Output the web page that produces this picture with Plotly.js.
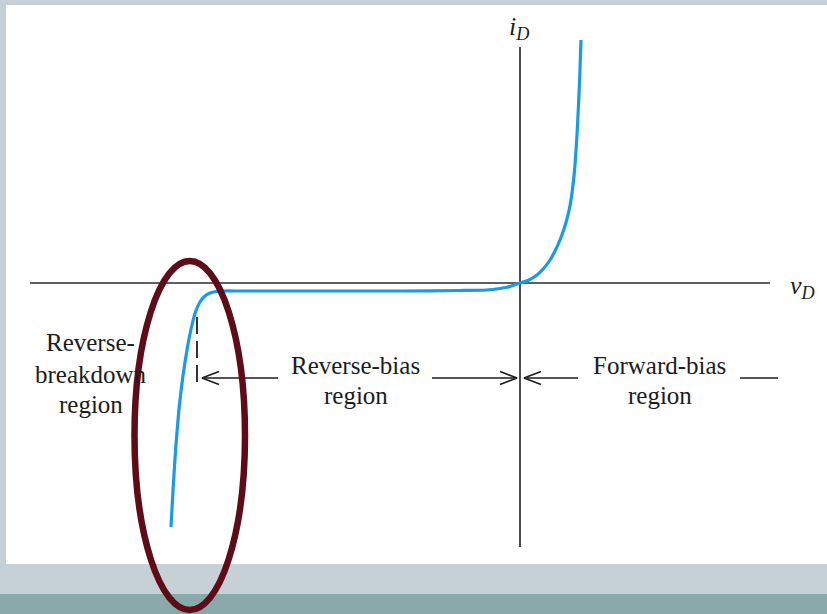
<!DOCTYPE html>
<html>
<head>
<meta charset="utf-8">
<script src="https://cdn.plot.ly/plotly-3.0.1.min.js"></script>
<style>html,body{margin:0;padding:0;background:#fff;}#chart{width:827px;height:614px;}</style>
</head>
<body>
<div id="chart"></div>
<script>
// Diode i-v characteristic (schematic units)
const curveV = [-34.9, -34.68, -34.42, -34.08, -33.72, -33.25, -32.85, -32.45, -32.0, -31.5, -31.0, -30.4, -29.6, -28.0, -22.0, -12.0, -6.0, -3.3, -2.0, -1.3, -0.7, 0.0,
                0.8, 1.7, 2.4, 3.0, 3.5, 4.0, 4.4, 4.75, 5.05, 5.3, 5.5, 5.7, 5.85, 5.97, 6.1];
const curveI = [-24.4, -20.4, -16.4, -12.4, -9.4, -6.4, -4.4, -2.9, -1.9, -1.3, -1.0, -0.85, -0.8, -0.8, -0.8, -0.8, -0.75, -0.7, -0.55, -0.43, -0.25, 0.0,
                0.25, 0.8, 1.5, 2.3, 3.2, 4.3, 5.4, 6.6, 8.0, 9.8, 11.8, 14.8, 17.8, 20.5, 24.3];

// axis lines
const vAxisV = [-49, 25];
const vAxisI = [0, 0];
const iAxisV = [0, 0];
const iAxisI = [23.6, -26.4];

// breakdown voltage marker (dashed)
const markV = [-32.3, -32.3];
const markI = [-3.4, -10.4];

// region arrows: [tail, tip]
const arrowY = -9.5;
const arrowRB = [-24.2, -31.8];
const arrowRR = [-8.8, -0.3];
const arrowFL = [5.8, 0.4];
const segFR = [22.0, 25.8];

// labels
const labelTexts = ["Reverse-", "breakdown", "region", "Reverse-bias", "region", "Forward-bias", "region"];
const labelV = [-42.95, -42.95, -42.95, -16.45, -16.45, 13.95, 13.95];
const labelI = [-5.9, -9.1, -12.1, -8.2, -11.2, -8.2, -11.2];

// highlight ellipse bounds
const ellipseV = [-38.55, -27.5];
const ellipseI = [2.2, -32.7];

const serif = '"Liberation Serif", "Times New Roman", serif';
const ink = '#1c1c1c';

// open chevron arrow (head size in axis units)
const headL = 1.7, headH = 0.65;
function arrowTrace(a) {
  const s = a[0] > a[1] ? 1 : -1;
  return {
    x: [a[0], a[1], null, a[1] + s * headL, a[1], a[1] + s * headL],
    y: [arrowY, arrowY, null, arrowY + headH, arrowY, arrowY - headH],
    mode: 'lines', line: {color: ink, width: 1.6}, hoverinfo: 'skip'
  };
}

const traces = [
  {x: vAxisV, y: vAxisI, mode: 'lines', line: {color: '#2b2b2b', width: 1.6}, hoverinfo: 'skip'},
  {x: iAxisV, y: iAxisI, mode: 'lines', line: {color: '#3a3a3a', width: 1.8}, hoverinfo: 'skip'},
  {x: markV, y: markI, mode: 'lines', line: {color: ink, width: 1.8, dash: '17px,7px'}, hoverinfo: 'skip'},
  {x: segFR, y: [arrowY, arrowY], mode: 'lines', line: {color: ink, width: 1.6}, hoverinfo: 'skip'},
  arrowTrace(arrowRB), arrowTrace(arrowRR), arrowTrace(arrowFL),
  {x: curveV, y: curveI, mode: 'lines', line: {color: '#1a9ae6', width: 3.2, shape: 'spline', smoothing: 0.5}, hoverinfo: 'skip'}
];

const annotations = [];
labelTexts.forEach((t, k) => {
  annotations.push({x: labelV[k], y: labelI[k], xref: 'x', yref: 'y', text: t, showarrow: false,
    xanchor: 'center', yanchor: 'middle', font: {family: serif, size: 25, color: ink}});
});
annotations.push({x: -0.1, y: 25.5, xref: 'x', yref: 'y', text: '<i>i<sub>D</sub></i>', showarrow: false,
  xanchor: 'center', yanchor: 'middle', font: {family: serif, size: 26, color: ink}});
annotations.push({x: 28.2, y: -0.4, xref: 'x', yref: 'y', text: '<i>v<sub>D</sub></i>', showarrow: false,
  xanchor: 'center', yanchor: 'middle', font: {family: serif, size: 26, color: ink}});

const H = 614, W = 827;
const shapes = [
  {type: 'rect', xref: 'paper', yref: 'paper', x0: 0, x1: 1, y0: 1 - 5 / H, y1: 1, fillcolor: '#c6d1d7', line: {width: 0}, layer: 'below'},
  {type: 'rect', xref: 'paper', yref: 'paper', x0: 0, x1: 6 / W, y0: 50 / H, y1: 1, fillcolor: '#c6d1d7', line: {width: 0}, layer: 'below'},
  {type: 'rect', xref: 'paper', yref: 'paper', x0: 0, x1: 1, y0: 20 / H, y1: 50 / H, fillcolor: '#c6d1d7', line: {width: 0}, layer: 'below'},
  {type: 'rect', xref: 'paper', yref: 'paper', x0: 0, x1: 1, y0: 0, y1: 20 / H, fillcolor: '#88aaaa', line: {width: 0}, layer: 'below'},
  {type: 'circle', xref: 'x', yref: 'y', x0: ellipseV[0], x1: ellipseV[1], y0: ellipseI[1], y1: ellipseI[0],
    line: {color: '#5e0d18', width: 6.5}, fillcolor: 'rgba(0,0,0,0)', layer: 'above'}
];

const layout = {
  width: W, height: H,
  margin: {l: 0, r: 0, t: 0, b: 0, pad: 0},
  paper_bgcolor: '#ffffff', plot_bgcolor: 'rgba(0,0,0,0)',
  showlegend: false,
  xaxis: {range: [-52, 30.7], visible: false, fixedrange: true},
  yaxis: {range: [-33.1, 28.3], visible: false, fixedrange: true},
  annotations: annotations,
  shapes: shapes
};

Plotly.newPlot('chart', traces, layout, {displayModeBar: false, staticPlot: true});
</script>
</body>
</html>
